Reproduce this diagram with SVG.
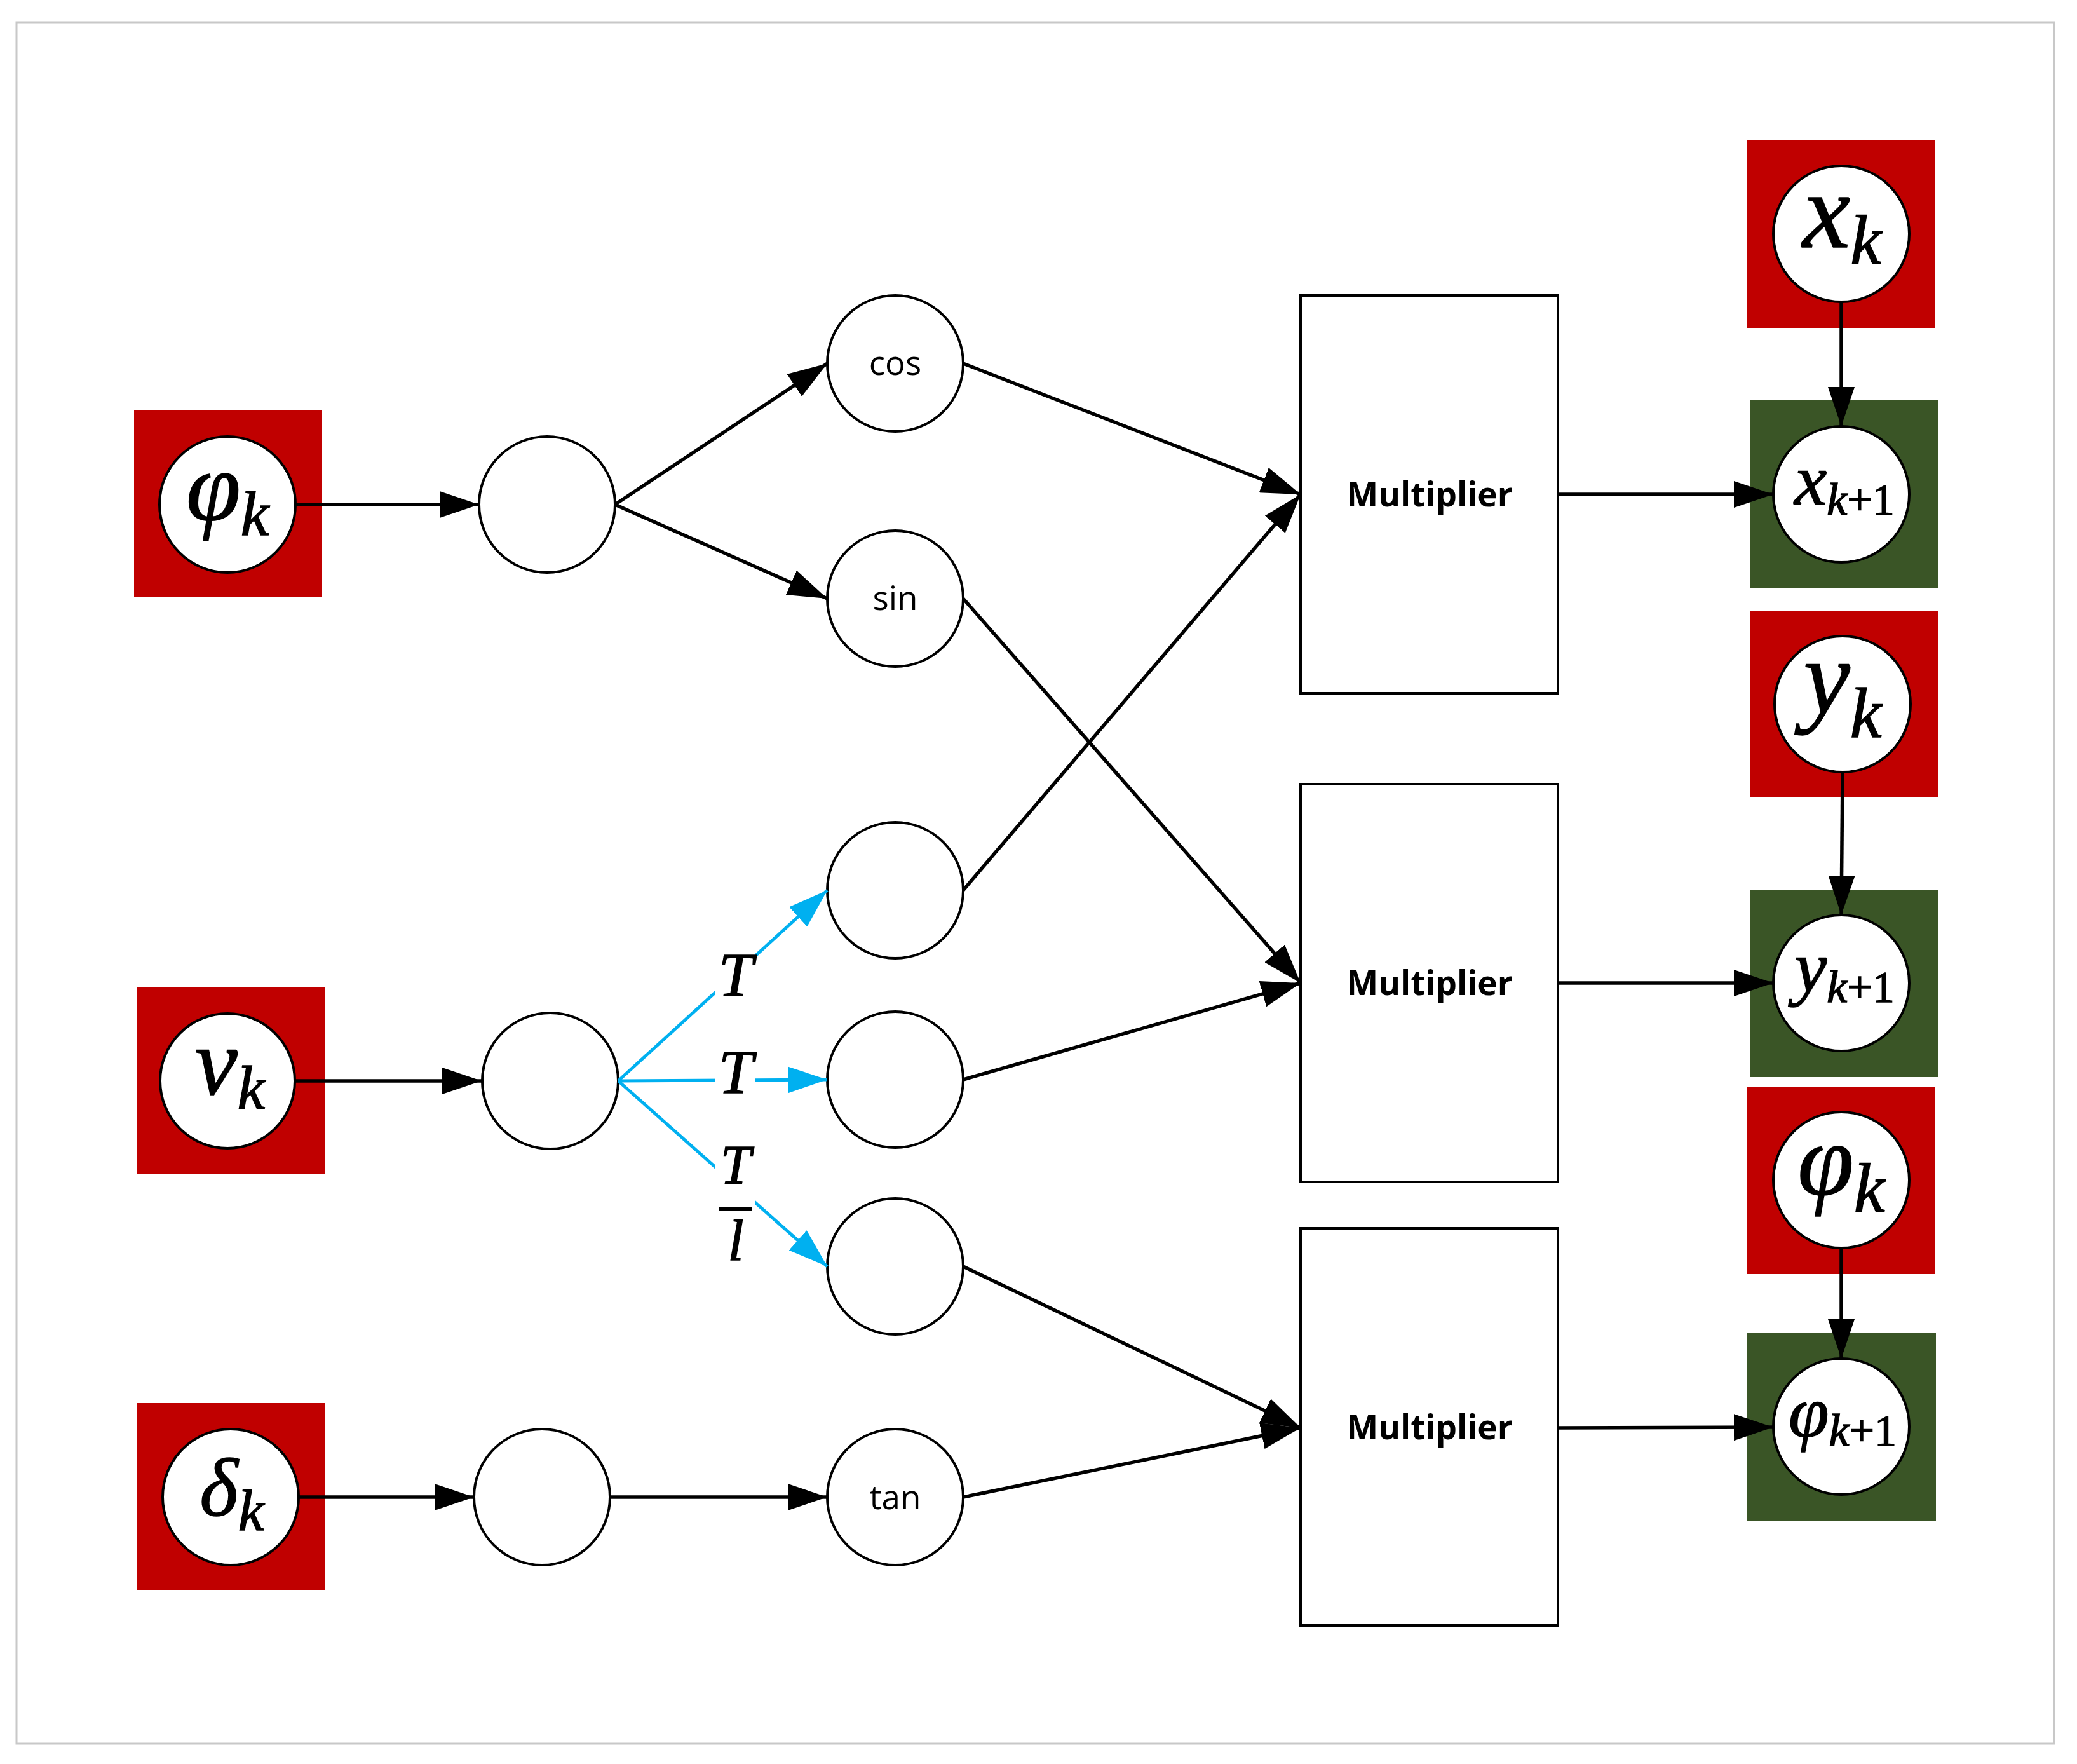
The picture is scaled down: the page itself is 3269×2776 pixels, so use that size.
<svg xmlns="http://www.w3.org/2000/svg" width="3269" height="2776" viewBox="0 0 3269 2776">
<style>
.frame{fill:#ffffff;stroke:#c8c8c8;stroke-width:3}
.red{fill:#c00000}
.green{fill:#3a5526}
.node{fill:#ffffff;stroke:#000000;stroke-width:4}
.box{fill:#ffffff;stroke:#000000;stroke-width:4}
.edge{fill:none;stroke:#000000;stroke-width:5.5;marker-end:url(#ah)}
.blue{fill:none;stroke:#00b0f0;stroke-width:5;marker-end:url(#ahb)}
.fn{font-family:"Open Sans","Liberation Sans",sans-serif;font-size:53px;fill:#000000;text-anchor:middle}
.mul{font-family:"Open Sans","Liberation Sans",sans-serif;font-size:53px;font-weight:bold;fill:#000000;text-anchor:middle}
.math{font-family:"Liberation Serif","DejaVu Serif",serif;font-style:italic;fill:#000000;stroke:#000000;stroke-width:1.5;text-anchor:middle}
.up{font-style:normal}
</style>
<defs>
<marker id="ah" markerUnits="userSpaceOnUse" markerWidth="62" markerHeight="42" refX="62" refY="21" orient="auto"><path d="M0,0 L62,21 L0,42 Z" fill="#000000"/></marker>
<marker id="ahb" markerUnits="userSpaceOnUse" markerWidth="62" markerHeight="42" refX="62" refY="21" orient="auto"><path d="M0,0 L62,21 L0,42 Z" fill="#00b0f0"/></marker>
</defs>
<rect class="frame" x="26" y="35" width="3207" height="2709"/>

<g id="in-phi">
<rect class="red" x="211" y="646" width="296" height="294"/>
<circle class="node" cx="358" cy="794" r="107"/>
<text class="math" x="358" y="818" font-size="155">φ<tspan font-size="100" dy="24">k</tspan></text>
</g>
<g id="in-v">
<rect class="red" x="215" y="1553" width="296" height="294"/>
<circle class="node" cx="358" cy="1701" r="106"/>
<text class="math" x="362" y="1722" font-size="150">v<tspan font-size="98" dy="23">k</tspan></text>
</g>
<g id="in-delta">
<rect class="red" x="215" y="2208" width="296" height="294"/>
<circle class="node" cx="363" cy="2356" r="107"/>
<text class="math" x="365" y="2385" font-size="130">δ<tspan font-size="92" dy="23">k</tspan></text>
</g>

<g id="n-phi"><circle class="node" cx="861" cy="794" r="107"/></g>
<g id="n-v"><circle class="node" cx="866" cy="1701" r="107"/></g>
<g id="n-delta"><circle class="node" cx="853" cy="2356" r="107"/></g>

<g id="n-cos"><circle class="node" cx="1409" cy="572" r="107"/><text class="fn" x="1409" y="590">cos</text></g>
<g id="n-sin"><circle class="node" cx="1409" cy="942" r="107"/><text class="fn" x="1409" y="960">sin</text></g>
<g id="n-t1"><circle class="node" cx="1409" cy="1401" r="107"/></g>
<g id="n-t2"><circle class="node" cx="1409" cy="1699" r="107"/></g>
<g id="n-t3"><circle class="node" cx="1409" cy="1993" r="107"/></g>
<g id="n-tan"><circle class="node" cx="1409" cy="2356" r="107"/><text class="fn" x="1409" y="2375">tan</text></g>

<g id="mul1"><rect class="box" x="2047" y="465" width="405" height="626"/><text class="mul" x="2250" y="797">Multiplier</text></g>
<g id="mul2"><rect class="box" x="2047" y="1234" width="405" height="626"/><text class="mul" x="2250" y="1566">Multiplier</text></g>
<g id="mul3"><rect class="box" x="2047" y="1933" width="405" height="625"/><text class="mul" x="2250" y="2265">Multiplier</text></g>

<g id="xk">
<rect class="red" x="2750" y="221" width="296" height="295"/>
<circle class="node" cx="2898" cy="368" r="107"/>
<text class="math" x="2899" y="389" font-size="170">x<tspan font-size="110" dy="26">k</tspan></text>
</g>
<g id="xk1">
<rect class="green" x="2754" y="630" width="296" height="296"/>
<circle class="node" cx="2898" cy="778" r="107"/>
<text class="math" x="2903" y="794" font-size="115">x<tspan font-size="72" dy="16">k</tspan><tspan class="up" font-size="70">+1</tspan></text>
</g>
<g id="yk">
<rect class="red" x="2754" y="961" width="296" height="294"/>
<circle class="node" cx="2900" cy="1108" r="107"/>
<text class="math" x="2900" y="1122" font-size="165">y<tspan font-size="112" dy="38">k</tspan></text>
</g>
<g id="yk1">
<rect class="green" x="2754" y="1401" width="296" height="294"/>
<circle class="node" cx="2898" cy="1547" r="107"/>
<text class="math" x="2903" y="1561" font-size="115">y<tspan font-size="72" dy="16">k</tspan><tspan class="up" font-size="70">+1</tspan></text>
</g>
<g id="phik">
<rect class="red" x="2750" y="1710" width="296" height="295"/>
<circle class="node" cx="2898" cy="1857" r="107"/>
<text class="math" x="2898" y="1880" font-size="160">φ<tspan font-size="110" dy="27">k</tspan></text>
</g>
<g id="phik1">
<rect class="green" x="2750" y="2098" width="297" height="296"/>
<circle class="node" cx="2898" cy="2245" r="107"/>
<text class="math" x="2900" y="2261" font-size="115">φ<tspan font-size="72" dy="14">k</tspan><tspan class="up" font-size="70">+1</tspan></text>
</g>

<g id="connectors">
<line class="edge" x1="465" y1="794" x2="754" y2="794"/>
<line class="edge" x1="464" y1="1701" x2="758" y2="1701"/>
<line class="edge" x1="470" y1="2356" x2="746" y2="2356"/>
<line class="edge" x1="968" y1="794" x2="1302" y2="572"/>
<line class="edge" x1="968" y1="794" x2="1302" y2="942"/>
<line class="edge" x1="960" y1="2356" x2="1302" y2="2356"/>
<line class="blue" x1="973" y1="1701" x2="1302" y2="1401"/>
<line class="blue" x1="973" y1="1701" x2="1302" y2="1699"/>
<line class="blue" x1="973" y1="1701" x2="1302" y2="1993"/>
<line class="edge" x1="1516" y1="572" x2="2047" y2="778"/>
<line class="edge" x1="1516" y1="1401" x2="2047" y2="778"/>
<line class="edge" x1="1516" y1="942" x2="2047" y2="1547"/>
<line class="edge" x1="1516" y1="1699" x2="2047" y2="1547"/>
<line class="edge" x1="1516" y1="1993" x2="2047" y2="2247"/>
<line class="edge" x1="1516" y1="2356" x2="2047" y2="2247"/>
<line class="edge" x1="2452" y1="778" x2="2791" y2="778"/>
<line class="edge" x1="2452" y1="1547" x2="2791" y2="1547"/>
<line class="edge" x1="2452" y1="2247" x2="2791" y2="2246"/>
<line class="edge" x1="2898" y1="475" x2="2898" y2="671"/>
<line class="edge" x1="2900" y1="1215" x2="2898" y2="1440"/>
<line class="edge" x1="2898" y1="1964" x2="2898" y2="2138"/>
<rect x="1126" y="1495" width="62" height="80" fill="#ffffff"/>
<rect x="1126" y="1645" width="62" height="85" fill="#ffffff"/>
<rect x="1126" y="1795" width="62" height="195" fill="#ffffff"/>
<text class="math" x="1158" y="1567" font-size="98">T</text>
<text class="math" x="1158" y="1720" font-size="98">T</text>
<text class="math" x="1158" y="1862" font-size="86">T</text>
<rect x="1131" y="1899" width="52" height="6" fill="#000000"/>
<text class="math" x="1158" y="1983" font-size="90">l</text>
</g>
</svg>
